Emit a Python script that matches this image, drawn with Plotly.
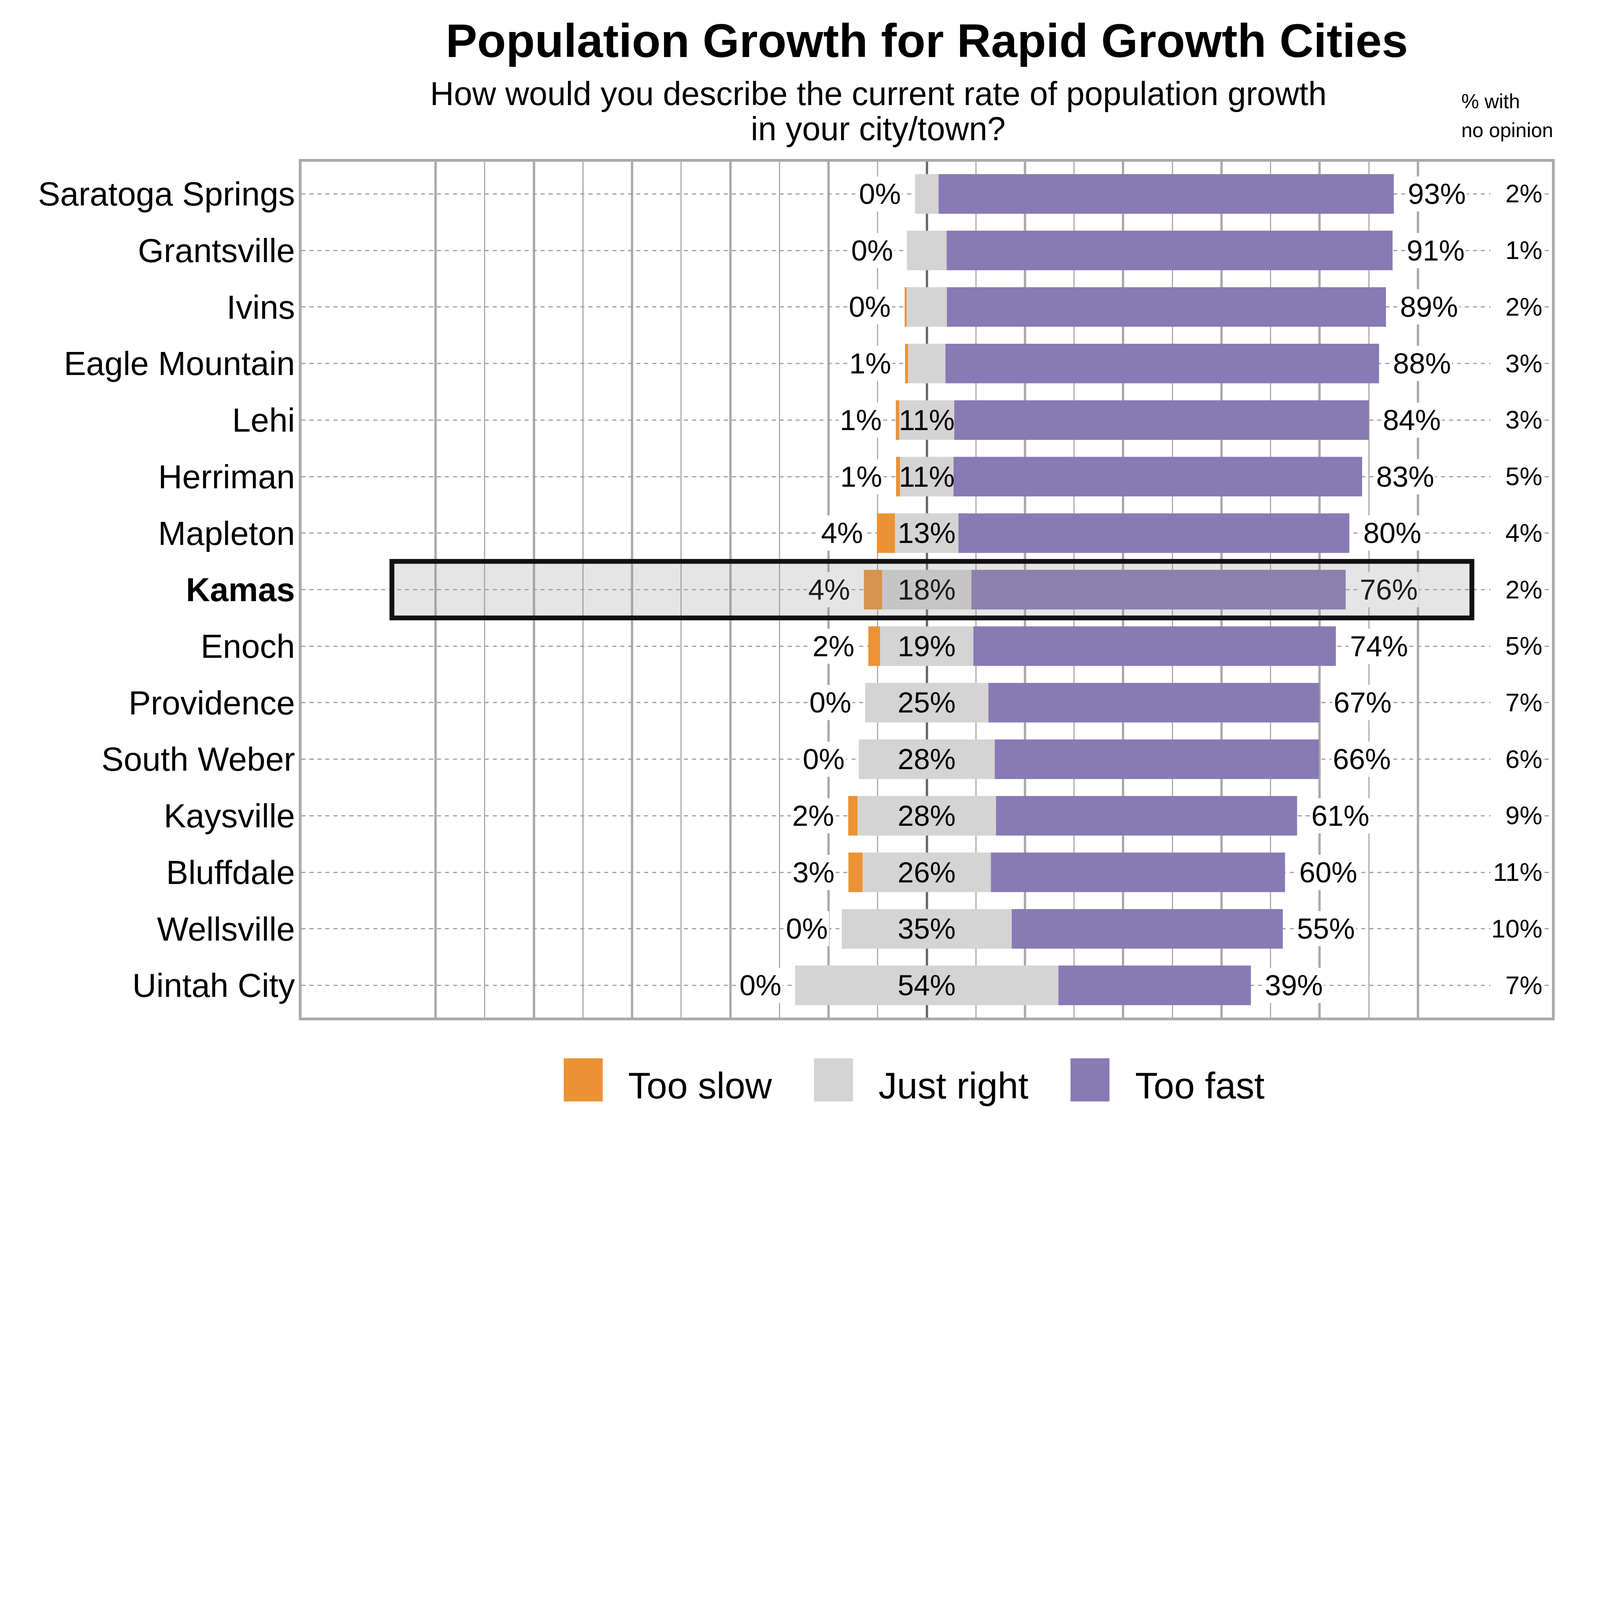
import plotly.graph_objects as go

FONT = "Liberation Sans, Arial, sans-serif"

# the page is photographed at a CSS width of about 4180 px, so the 5700 px
# design is scaled down to fit inside it
S = 0.728
W, H = 5700, 4200

# plot area in design pixels
PL, PR, PT, PB = 1049, 5446, 558, 3567

orange = "#EB9234"
gray = "#D4D4D4"
purple = "#887AB5"

cities = [
    "Saratoga Springs", "Grantsville", "Ivins", "Eagle Mountain", "Lehi",
    "Herriman", "Mapleton", "Kamas", "Enoch", "Providence",
    "South Weber", "Kaysville", "Bluffdale", "Wellsville", "Uintah City",
]
too_slow = [0, 0, 0.4, 0.6, 0.7, 0.8, 3.7, 3.7, 2.4, 0, 0, 1.9, 2.9, 0, 0]
just_right = [4.8, 8.1, 8.2, 7.6, 11.2, 10.9, 12.9, 18.2, 19.0, 25.1, 27.7, 28.2, 26.1, 34.6, 53.6]
too_fast = [92.7, 90.8, 89.4, 88.3, 84.4, 83.2, 79.6, 76.2, 73.8, 67.4, 66.0, 61.3, 59.9, 55.2, 39.2]
no_opinion = [2, 1, 2, 3, 3, 5, 4, 2, 5, 7, 6, 9, 11, 10, 7]
highlight = "Kamas"

series_names = ["Too slow", "Just right", "Too fast"]
major_ticks = [-100, -80, -60, -40, -20, 0, 20, 40, 60, 80, 100]
minor_ticks = [-90, -70, -50, -30, -10, 10, 30, 50, 70, 90]


def s(v):
    """design pixels -> page pixels"""
    return v * S


def px_x(px):
    return (px - PL) / (PR - PL)


def px_y(py):
    return (PB - py) / (PB - PT)


def pct(v):
    return f"{int(v + 0.5)}%"


half = [j / 2 for j in just_right]
slow_base = [-(h + sl) for h, sl in zip(half, too_slow)]

fig = go.Figure()
fig.add_trace(go.Bar(y=cities, x=too_slow, base=slow_base, orientation="h",
                     marker=dict(color=orange, line_width=0), width=0.7, name=series_names[0]))
fig.add_trace(go.Bar(y=cities, x=just_right, base=[-h for h in half], orientation="h",
                     marker=dict(color=gray, line_width=0), width=0.7, name=series_names[1]))
fig.add_trace(go.Bar(y=cities, x=too_fast, base=half, orientation="h",
                     marker=dict(color=purple, line_width=0), width=0.7, name=series_names[2]))

annotations = []
for i, city in enumerate(cities):
    hl = city == highlight
    bg = "#E5E5E5" if hl else "white"
    col = "#1c1c1c" if hl else "black"
    # too slow label, left of the bar
    annotations.append(dict(x=slow_base[i], y=city, xref="x", yref="y", text=pct(too_slow[i]),
                            xanchor="right", yanchor="middle", xshift=s(-44), showarrow=False,
                            bgcolor=bg, borderpad=s(4), font=dict(size=s(102), color=col)))
    # just right label in the middle
    if int(just_right[i] + 0.5) >= 10:
        annotations.append(dict(x=0, y=city, xref="x", yref="y", text=pct(just_right[i]),
                                xanchor="center", yanchor="middle", showarrow=False,
                                font=dict(size=s(102), color=col)))
    # too fast label, right of the bar
    annotations.append(dict(x=half[i] + too_fast[i], y=city, xref="x", yref="y", text=pct(too_fast[i]),
                            xanchor="left", yanchor="middle", xshift=s(44), showarrow=False,
                            bgcolor=bg, borderpad=s(4), font=dict(size=s(102), color=col)))
    # no opinion column
    annotations.append(dict(x=px_x(5416), y=city, xref="paper", yref="y", text=pct(no_opinion[i]),
                            xanchor="right", yanchor="middle", showarrow=False, width=s(180), align="right",
                            bgcolor="white", borderpad=s(2), font=dict(size=s(90), color="black")))

# titles
annotations.append(dict(x=px_x(3247), y=px_y(133), xref="paper", yref="paper",
                        text="<b>Population Growth for Rapid Growth Cities</b>", showarrow=False,
                        xanchor="center", yanchor="middle", font=dict(size=s(166), color="black")))
annotations.append(dict(x=px_x(3077), y=px_y(319), xref="paper", yref="paper",
                        text="How would you describe the current rate of population growth", showarrow=False,
                        xanchor="center", yanchor="middle", font=dict(size=s(116), color="black")))
annotations.append(dict(x=px_x(3077), y=px_y(443), xref="paper", yref="paper",
                        text="in your city/town?", showarrow=False,
                        xanchor="center", yanchor="middle", font=dict(size=s(116), color="black")))
annotations.append(dict(x=px_x(5125), y=px_y(346), xref="paper", yref="paper",
                        text="% with", showarrow=False,
                        xanchor="left", yanchor="middle", font=dict(size=s(70), color="black")))
annotations.append(dict(x=px_x(5125), y=px_y(448), xref="paper", yref="paper",
                        text="no opinion", showarrow=False,
                        xanchor="left", yanchor="middle", font=dict(size=s(70), color="black")))

# legend drawn by hand so the keys can be large
shapes = []
legend_keys = [(1971, orange, 2195), (2851, gray, 3075), (3753, purple, 3978)]
for (kx, kc, tx), name in zip(legend_keys, series_names):
    shapes.append(dict(type="rect", xref="paper", yref="paper", layer="above",
                       x0=px_x(kx), x1=px_x(kx + 137), y0=px_y(3862), y1=px_y(3710),
                       fillcolor=kc, line_width=0))
    annotations.append(dict(x=px_x(tx), y=px_y(3806), xref="paper", yref="paper", text=name,
                            showarrow=False, xanchor="left", yanchor="middle",
                            font=dict(size=s(130), color="black")))

# highlight box for Kamas
k = cities.index(highlight)
shapes.append(dict(type="rect", xref="x", yref="y", layer="above",
                   x0=-108.9, x1=111.0, y0=k - 0.5, y1=k + 0.5,
                   fillcolor="rgba(151,151,151,0.25)", line=dict(color="#111111", width=s(17))))

fig.update_layout(
    width=round(s(W)),
    height=round(s(H)),
    margin=dict(l=s(PL), r=s(W - PR), t=s(PT), b=s(H - PB), pad=0),
    paper_bgcolor="white",
    plot_bgcolor="white",
    barmode="overlay",
    showlegend=False,
    font=dict(family=FONT, color="black"),
    annotations=annotations,
    shapes=shapes,
)
fig.update_xaxes(
    range=[-127.3, 127.3],
    tickmode="array",
    tickvals=major_ticks,
    showticklabels=False,
    ticks="",
    showgrid=True,
    gridcolor="#aaaaaa",
    gridwidth=s(8.5),
    minor=dict(tickmode="array", tickvals=minor_ticks, showgrid=True, gridcolor="#aaaaaa",
               gridwidth=s(3.5), ticks=""),
    zeroline=True,
    zerolinecolor="#6b6b6b",
    zerolinewidth=s(8),
    showline=True,
    mirror=True,
    linecolor="#aaaaaa",
    linewidth=s(9),
)
fig.update_yaxes(
    type="category",
    categoryorder="array",
    categoryarray=cities,
    range=[14.57, -0.57],
    tickmode="array",
    tickvals=cities,
    ticktext=[f"<b>{c}</b>" if c == highlight else c for c in cities],
    tickfont=dict(size=s(117), color="black"),
    ticks="",
    ticklabelstandoff=-7,
    showgrid=True,
    gridcolor="#a0a0a0",
    gridwidth=s(4),
    griddash=f"{s(14):.1f}px,{s(14):.1f}px",
    zeroline=False,
    showline=True,
    mirror=True,
    linecolor="#aaaaaa",
    linewidth=s(9),
)

fig.write_html("out.html")
